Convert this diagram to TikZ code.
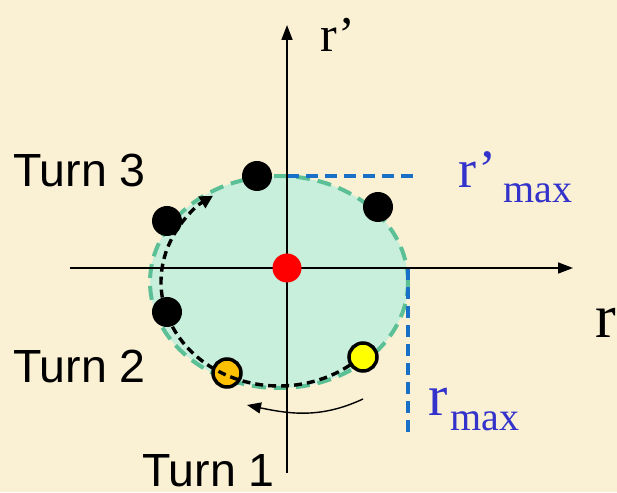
\documentclass[tikz,border=0pt]{standalone}
\usepackage{fontspec}
\setmainfont{Liberation Serif}
\setsansfont{Liberation Sans}
\usetikzlibrary{arrows.meta,positioning}
\definecolor{Paper}{HTML}{FAF0D4}
\definecolor{Mint}{HTML}{C8EEDC}
\definecolor{MintEdge}{HTML}{5CC096}
\definecolor{LineBlue}{HTML}{1870C8}
\definecolor{TextBlue}{HTML}{3333CC}
\definecolor{Amber}{HTML}{FFC000}
\definecolor{Lemon}{HTML}{FFFF00}

\begin{document}
\begin{tikzpicture}[x=1pt, y=1pt,
  dot/.style={circle, fill=black, minimum size=30pt, inner sep=0pt},
  ring/.style={circle, draw=black, line width=3.5pt, minimum size=28pt, inner sep=0pt},
  turn/.style={anchor=base west, inner sep=0pt, font=\sffamily\fontsize{46.5}{50}\selectfont},
  sym/.style={anchor=base west, inner sep=0pt, font=\fontsize{#1}{#1}\selectfont},
  axis/.style={line width=1.6pt, -{Triangle[length=15pt, width=11pt]}},
  limit/.style={LineBlue, line width=3.5pt, dash pattern=on 12pt off 7pt}
]
  %% Background and bounding box
  \fill[Paper] (0,0) rectangle (617,492);
  \useasboundingbox (0,0) rectangle (617,492);

  %% Phase space ellipse
  \coordinate (ellc) at (279,210);
  \draw[fill=Mint, draw=MintEdge, line width=4pt, dash pattern=on 14pt off 8pt]
    (ellc) ellipse [x radius=129pt, y radius=106pt];

  %% Limits
  \coordinate (topmax) at (287,316);
  \coordinate (topend) at (413,316);
  \coordinate (sidemax) at (408,224);
  \coordinate (sideend) at (408,60);
  \draw[limit] (topmax) -- (topend);
  \draw[limit] (sidemax) -- (sideend);

  %% Axes
  \coordinate (xfrom) at (70,224);
  \coordinate (xto) at (573,224);
  \coordinate (yfrom) at (287,19);
  \coordinate (yto) at (287,467);
  \draw[axis] (xfrom) -- (xto);
  \draw[axis] (yfrom) -- (yto);

  %% Particles
  \node[circle, fill=red, minimum size=29pt, inner sep=0pt] (centre) at (287,224) {};
  \node[dot] (t3a) at (257,316) {};
  \node[dot] (t3b) at (378,285) {};
  \node[dot] (t3c) at (167,271) {};
  \node[dot] (t2a) at (167,180) {};
  \node[ring, fill=Amber] (t2) at (227,119) {};
  \node[ring, fill=Lemon] (t1) at (363,135) {};

  %% Motion
  \draw[line width=3.4pt, dash pattern=on 8pt off 5pt, -{Triangle[length=13pt, width=13pt]}]
    (ellc) ++(-53:118pt and 104pt)
    arc[start angle=-53, end angle=-236, x radius=118pt, y radius=104pt];
  \coordinate (spinfrom) at (363,93);
  \coordinate (spinto) at (247,87);
  \draw[line width=1.4pt, -{Triangle[length=14pt, width=11pt]}]
    (spinfrom) to[out=205, in=-12] (spinto);

  %% Labels
  \node[turn] (lab3) at (13,305) {Turn 3};
  \node[turn] (lab2) at (13,109) {Turn 2};
  \node[turn] (lab1) at (142,6) {Turn 1};
  \node[sym=50] (rp) at (320,440) {r’};
  \node[sym=62] (r) at (595,154) {r};
  \node[sym=54, text=TextBlue] (rpmax) at (458,304) {r’};
  \node[sym=40, text=TextBlue] at (503,289) {max};
  \node[sym=58, text=TextBlue] (rmax) at (428,77) {r};
  \node[sym=40, text=TextBlue] at (450,62) {max};
\end{tikzpicture}
\end{document}
